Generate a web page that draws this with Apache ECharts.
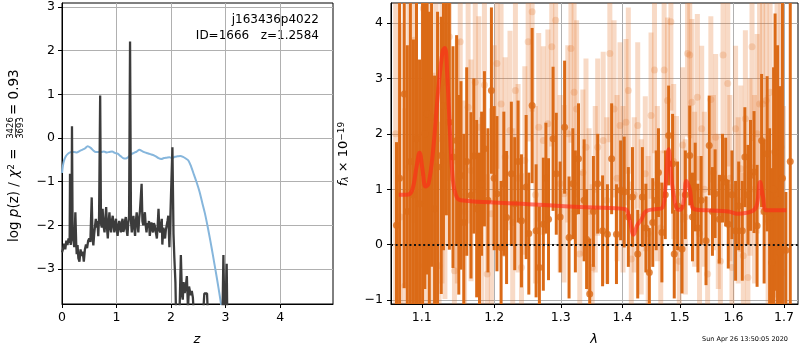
<!DOCTYPE html>
<html>
<head>
<meta charset="utf-8">
<script src="https://cdn.jsdelivr.net/npm/echarts@6/dist/echarts.min.js"></script>
<style>
html, body { margin: 0; padding: 0; background: #fff; }
#chart { width: 800px; height: 350px; }
</style>
</head>
<body>
<div id="chart"></div>
<script>
// ---- left panel: log p(z) ----
var pzZ = [0.00, 0.02, 0.04, 0.06, 0.08, 0.10, 0.12, 0.14, 0.147, 0.16, 0.175, 0.183, 0.195, 0.21, 0.225, 0.245, 0.26, 0.27, 0.285, 0.30,
  0.32, 0.34, 0.36, 0.38, 0.40, 0.42, 0.44, 0.46, 0.48, 0.50, 0.52, 0.545, 0.56, 0.575, 0.59, 0.605, 0.62, 0.635, 0.65, 0.665,
  0.68, 0.70, 0.715, 0.73, 0.745, 0.76, 0.78, 0.795, 0.81, 0.825, 0.84, 0.855, 0.87, 0.885, 0.90, 0.915, 0.93, 0.945, 0.96, 0.975,
  0.99, 1.005, 1.02, 1.035, 1.05, 1.065, 1.08, 1.095, 1.11, 1.125, 1.14, 1.155, 1.17, 1.185, 1.20, 1.215, 1.23, 1.248, 1.265, 1.28,
  1.295, 1.31, 1.325, 1.34, 1.355, 1.37, 1.385, 1.40, 1.415, 1.43, 1.46, 1.475, 1.49, 1.505, 1.52, 1.535, 1.55, 1.565, 1.58, 1.595,
  1.61, 1.625, 1.64, 1.655, 1.67, 1.685, 1.70, 1.72, 1.74, 1.755, 1.77, 1.785, 1.80, 1.815, 1.83, 1.84, 1.86, 1.875, 1.89, 1.905,
  1.92, 1.935, 1.95, 1.97, 1.985, 2.025, 2.045, 2.06, 2.08, 2.10, 2.14, 2.18, 2.20, 2.215, 2.23, 2.25, 2.27, 2.29, 2.31, 2.33,
  2.36, 2.38, 2.40, 2.43, 2.50, 2.58, 2.61, 2.64, 2.66, 2.68, 2.75, 2.85, 2.94, 2.96, 2.98, 3.00, 3.02, 3.035];
var pzLog = [-2.62, -2.54, -2.42, -2.55, -2.35, -2.45, -2.30, -2.40, -0.82, -2.45, -2.2, 0.27, -2.3, -2.35, -2.5, -1.70, -2.4, -2.66, -2.45, -2.75,
  -2.83, -2.55, -2.70, -2.60, -2.83, -2.55, -2.44, -2.52, -2.35, -2.30, -2.38, -1.36, -2.30, -2.46, -2.20, -2.16, -1.85, -2.05, -1.90, -2.25,
  -1.80, 0.97, -1.95, -2.05, -1.62, -2.0, -2.16, -1.85, -1.58, -2.05, -2.30, -1.95, -1.70, -2.05, -2.16, -1.90, -1.78, -2.0, -2.16, -1.95,
  -1.85, -2.1, -2.24, -2.0, -1.90, -2.05, -2.16, -1.95, -1.85, -2.15, -2.08, -1.90, -1.81, -2.1, -2.24, -1.95, -1.78, 2.21, -1.9, -2.16,
  -1.95, -1.78, -2.05, -2.24, -1.9, -1.70, -1.95, -2.16, -1.85, -1.66, -1.05, -1.9, -2.0, -1.85, -1.70, -2.0, -2.16, -1.95, -2.05, -1.90,
  -2.24, -2.05, -1.93, -2.1, -2.16, -1.95, -2.0, -2.15, -2.30, -2.0, -1.62, -2.1, -2.16, -2.0, -1.85, -2.44, -2.05, -2.2, -2.30, -2.1,
  -2.0, -1.9, -1.78, -2.5, -1.9, -0.21, -2.2, -2.73, -3.3, -4.6, -4.8, -2.68, -3.6, -3.7, -3.3, -3.55, -3.4, -3.16, -3.9, -3.4,
  -3.6, -3.5, -3.65, -4.3, -4.8, -4.2, -3.56, -3.6, -3.56, -4.2, -4.8, -4.9, -4.4, -2.68, -4.2, -3.9, -2.88, -4.5];

var priorZ = [0, 0.03, 0.07, 0.12, 0.17, 0.22, 0.27, 0.32, 0.37, 0.42, 0.47, 0.52, 0.57, 0.62, 0.67, 0.72, 0.77, 0.82, 0.87, 0.92,
  0.97, 1.02, 1.07, 1.12, 1.17, 1.22, 1.27, 1.32, 1.37, 1.42, 1.47, 1.52, 1.57, 1.62, 1.67, 1.72, 1.77, 1.82, 1.87, 1.92,
  1.97, 2.02, 2.07, 2.12, 2.17, 2.22, 2.27, 2.32, 2.37, 2.42, 2.47, 2.52, 2.57, 2.62, 2.67, 2.72, 2.77, 2.82, 2.87, 2.92, 2.97];
var priorLog = [-0.8, -0.55, -0.42, -0.35, -0.32, -0.32, -0.33, -0.3, -0.27, -0.24, -0.19, -0.22, -0.28, -0.32, -0.32, -0.32, -0.31, -0.33, -0.32, -0.31,
  -0.34, -0.36, -0.41, -0.46, -0.47, -0.43, -0.37, -0.34, -0.31, -0.27, -0.3, -0.33, -0.35, -0.37, -0.39, -0.42, -0.46, -0.48, -0.46, -0.45,
  -0.44, -0.46, -0.43, -0.42, -0.41, -0.43, -0.47, -0.52, -0.66, -0.84, -1.02, -1.22, -1.47, -1.72, -2.02, -2.35, -2.7, -3.06, -3.43, -3.83, -4.3];

var zTicks = [0, 1, 2, 3, 4];
var pTicks = [-3, -2, -1, 0, 1, 2, 3];

// ---- right panel: spectrum ----
var darkWave = [1.067, 1.071, 1.077, 1.081, 1.085, 1.089, 1.093, 1.097, 1.101, 1.104, 1.107, 1.110, 1.113, 1.117, 1.121, 1.126, 1.129, 1.133, 1.137, 1.142,
  1.147, 1.150, 1.153, 1.157, 1.161, 1.167, 1.171, 1.175, 1.179, 1.182, 1.186, 1.191, 1.196, 1.200, 1.204, 1.210, 1.214, 1.218, 1.225, 1.230,
  1.235, 1.240, 1.247, 1.251, 1.256, 1.262, 1.267, 1.273, 1.277, 1.281, 1.288, 1.293, 1.299, 1.306, 1.313, 1.319, 1.323, 1.328, 1.337, 1.341,
  1.346, 1.352, 1.359, 1.367, 1.375, 1.382, 1.390, 1.397, 1.403, 1.410, 1.417, 1.426, 1.434, 1.440, 1.446, 1.452, 1.458, 1.462, 1.468, 1.474,
  1.480, 1.487, 1.490, 1.496, 1.504, 1.510, 1.518, 1.523, 1.528, 1.533, 1.539, 1.548, 1.554, 1.560, 1.565, 1.573, 1.579, 1.585, 1.590, 1.597,
  1.604, 1.610, 1.617, 1.622, 1.628, 1.633, 1.640, 1.646, 1.655, 1.660, 1.666, 1.671, 1.675, 1.679, 1.682, 1.687, 1.692, 1.697, 1.704, 1.713];
var darkFlux = [0.35, 1.2, 2.72, 0.6, 1.5, 0.9, 1.91, 0.74, 1.3, 2.0, 2.36, 1.2, 2.30, 0.65, 1.4, 1.61, 2.5, 2.93, 2.21, 1.58,
  1.88, 0.9, 1.25, 0.4, 1.5, 0.89, 1.6, 0.65, 0.16, 1.1, 1.73, 0.80, 2.78, 1.2, 0.92, -0.05, 1.1, 0.49, 1.28, 0.74,
  1.5, 0.43, 1.04, 0.2, 2.51, 0.25, -0.41, 0.37, 1.2, 0.46, 1.91, 1.28, 0.5, 2.12, 0.13, 1.10, 0.6, 1.55, 0.80, 0.1,
  -0.89, 0.6, 1.10, 0.25, 0.19, 1.55, 0.19, 0.98, 0.95, 0.5, 0.86, -0.17, 0.86, 0.3, -0.50, 0.4, 0.80, 1.3, 0.22, 0.9,
  1.97, 1.46, -0.17, 0.7, -0.08, 0.9, 1.61, 0.5, 1.04, 0.3, 0.80, 0.07, 1.79, 0.6, 0.92, 0.46, 1.2, 1.13, 0.37, 0.9,
  0.25, 0.7, 0.25, 1.58, 0.9, 1.25, 1.31, 0.34, 1.88, 0.6, 1.64, 0.5, -0.32, 1.0, 1.67, 0.8, -0.14, 1.2, -0.1, 1.5];
var darkErr = [1.5, 3.4, 3.5, 3.0, 3.6, 2.8, 3.2, 2.6, 3.1, 2.8, 2.9, 3.0, 2.7, 2.4, 2.8, 2.5, 2.6, 2.4, 2.3, 2.0,
  1.9, 1.8, 1.7, 1.6, 1.7, 1.5, 1.4, 1.6, 1.5, 1.3, 1.4, 1.3, 1.5, 1.3, 1.4, 1.2, 1.3, 1.2, 1.3, 1.2,
  1.1, 1.2, 1.3, 1.1, 1.4, 1.2, 1.1, 1.2, 1.0, 1.1, 1.3, 1.1, 1.0, 1.2, 1.1, 1.0, 1.1, 1.0, 1.1, 0.9,
  1.0, 1.0, 0.9, 1.0, 0.9, 1.0, 0.9, 0.9, 1.0, 0.9, 0.9, 0.8, 0.9, 0.8, 0.8, 0.8, 0.9, 0.8, 0.9, 0.8,
  0.9, 0.9, 0.8, 0.8, 0.8, 0.8, 0.9, 0.8, 0.8, 0.8, 0.8, 0.8, 0.9, 0.8, 0.8, 0.8, 0.8, 0.8, 0.8, 0.8,
  0.9, 0.8, 0.9, 0.9, 0.9, 1.0, 1.1, 1.1, 1.2, 1.3, 1.4, 1.6, 1.7, 2.2, 2.5, 2.8, 3.0, 4.0, 1.05, 3.5];

var lightWave = [1.066, 1.072, 1.078, 1.083, 1.090, 1.096, 1.102, 1.106, 1.110, 1.115, 1.119, 1.123, 1.127, 1.131, 1.137, 1.144, 1.148, 1.152, 1.158, 1.163,
  1.167, 1.173, 1.178, 1.182, 1.186, 1.190, 1.196, 1.200, 1.204, 1.210, 1.216, 1.223, 1.227, 1.231, 1.235, 1.240, 1.245, 1.250, 1.256, 1.261,
  1.266, 1.273, 1.280, 1.286, 1.292, 1.299, 1.305, 1.311, 1.316, 1.321, 1.325, 1.330, 1.335, 1.340, 1.345, 1.350, 1.355, 1.359, 1.368, 1.374,
  1.379, 1.386, 1.391, 1.396, 1.401, 1.406, 1.410, 1.415, 1.420, 1.426, 1.432, 1.439, 1.444, 1.449, 1.455, 1.460, 1.466, 1.472, 1.478, 1.484,
  1.489, 1.494, 1.499, 1.505, 1.510, 1.514, 1.518, 1.522, 1.527, 1.532, 1.536, 1.540, 1.545, 1.551, 1.557, 1.562, 1.566, 1.571, 1.575, 1.580,
  1.589, 1.593, 1.597, 1.604, 1.609, 1.614, 1.619, 1.623, 1.628, 1.632, 1.636, 1.641, 1.646, 1.651, 1.657, 1.664, 1.668, 1.672, 1.675, 1.682,
  1.686, 1.694, 1.699];
var lightFlux = [2.0, 0.5, -0.74, 1.40, 3.69, -0.38, 4.26, 1.0, 2.97, 0.3, 2.82, -0.38, 1.9, 1.52, 3.75, -0.47, 1.5, 3.66, 0.6, 2.48,
  1.34, 2.93, 2.12, 0.5, 2.88, -0.53, 0.56, 1.8, 3.27, 2.54, 1.58, 2.06, 0.4, 2.78, 1.2, -0.41, 1.52, 3.66, 4.20, 0.9,
  2.12, 1.88, 2.18, 3.57, 4.05, 1.10, 0.92, 2.0, 3.54, 2.75, 2.45, -0.17, 1.3, 1.76, 0.6, -0.41, 1.0, 1.76, 1.88, 0.8,
  3.45, 2.45, 1.2, 2.15, 1.0, 2.21, 2.78, -0.26, 0.9, 2.15, 0.5, 1.28, 0.2, 2.33, 3.15, 1.1, 0.3, 3.15, 2.60, 4.02,
  1.5, 0.92, -0.3, 1.8, 0.5, 3.45, 3.42, 2.57, 1.0, 2.66, 0.2, 2.09, 1.0, -0.53, 2.62, 1.3, 1.94, 0.6, -0.3, 3.42,
  2.91, 1.2, -0.41, 2.09, 0.8, 1.37, -0.2, 2.27, -0.59, 1.4, 3.57, 1.0, 2.0, 2.54, 2.54, 2.60, 0.4, 2.75, -0.89, -0.89,
  1.5, 1.76, -0.5];
var lightErr = [4.0, 3.5, 3.2, 3.5, 3.3, 3.0, 3.2, 3.0, 3.0, 2.8, 2.8, 2.6, 2.6, 2.5, 2.6, 2.2, 2.2, 2.3, 2.0, 2.1,
  2.0, 2.0, 2.0, 1.8, 2.0, 1.8, 1.9, 1.8, 1.9, 1.8, 1.8, 1.8, 1.7, 1.8, 1.7, 1.7, 1.7, 1.8, 1.8, 1.6,
  1.7, 1.7, 1.7, 1.8, 1.8, 1.6, 1.6, 1.6, 1.7, 1.7, 1.6, 1.5, 1.5, 1.6, 1.5, 1.5, 1.5, 1.6, 1.6, 1.5,
  1.6, 1.6, 1.5, 1.5, 1.5, 1.5, 1.5, 1.4, 1.4, 1.5, 1.4, 1.4, 1.4, 1.5, 1.5, 1.4, 1.4, 1.5, 1.5, 1.6,
  1.4, 1.4, 1.3, 1.4, 1.4, 1.5, 1.5, 1.5, 1.4, 1.5, 1.4, 1.5, 1.4, 1.4, 1.5, 1.4, 1.5, 1.4, 1.4, 1.5,
  1.5, 1.5, 1.5, 1.5, 1.5, 1.5, 1.5, 1.6, 1.6, 1.6, 1.7, 1.7, 1.8, 1.9, 2.0, 2.2, 2.3, 2.5, 2.6, 2.8,
  3.2, 3.5, 3.0];

var modelWave = [1.070, 1.080, 1.087, 1.093, 1.097, 1.101, 1.105, 1.109, 1.115, 1.122, 1.128, 1.131, 1.134, 1.138, 1.142, 1.147, 1.153, 1.20, 1.25, 1.30,
  1.33, 1.38, 1.405, 1.412, 1.419, 1.425, 1.432, 1.44, 1.455, 1.468, 1.474, 1.480, 1.486, 1.494, 1.500, 1.506, 1.512, 1.518, 1.526, 1.55,
  1.59, 1.608, 1.635, 1.645, 1.652, 1.658, 1.665, 1.705];
var modelFlux = [0.90, 0.90, 0.97, 1.4, 1.66, 1.35, 1.05, 1.1, 1.7, 2.8, 3.5, 3.55, 3.1, 2.0, 1.15, 0.86, 0.8, 0.76, 0.73, 0.70,
  0.68, 0.66, 0.64, 0.45, 0.18, 0.35, 0.45, 0.6, 0.64, 0.66, 1.0, 1.72, 1.1, 0.66, 0.63, 0.72, 1.15, 1.0, 0.64, 0.62,
  0.6, 0.56, 0.6, 0.7, 1.13, 0.85, 0.62, 0.62];

var lamTicks = [1.1, 1.2, 1.3, 1.4, 1.5, 1.6, 1.7];
var fTicks = [-1, 0, 1, 2, 3, 4];

var myChart = echarts.init(document.getElementById('chart'));

var FONT = 'DejaVu Sans';
var DARK = '#db6a16';

function minus(v) {
  return String(v).replace('-', '\u2212');
}

function toLog(w) {
  return Math.log(w);
}

function pairs(xs, ys) {
  var out = [];
  for (var i = 0; i < xs.length; i++) out.push([xs[i], ys[i]]);
  return out;
}

function bars(ws, fs, es) {
  var out = [];
  for (var i = 0; i < ws.length; i++) out.push([toLog(ws[i]), fs[i], es[i]]);
  return out;
}

// draws one vertical error bar, clipped to the grid
function errBar(width, color) {
  return function(params, api) {
    var x = api.value(0), y = api.value(1), e = api.value(2);
    var top = api.coord([x, y + e]);
    var bot = api.coord([x, y - e]);
    var shape = echarts.graphic.clipRectByRect({
      x: top[0] - width / 2, y: top[1], width: width, height: bot[1] - top[1]
    }, params.coordSys);
    if (!shape) return;
    return { type: 'rect', shape: shape, style: { fill: color } };
  };
}

var axisCommon = {
  axisLine: { show: true, onZero: false, lineStyle: { color: '#000', width: 1 } },
  axisTick: { show: true, inside: false, length: 4, lineStyle: { color: '#000' } },
  splitLine: { show: true, lineStyle: { color: '#b0b0b0', width: 1 } }
};

function makeAxis(extra, labelOpt) {
  var a = {
    type: 'value',
    axisLine: axisCommon.axisLine,
    splitLine: axisCommon.splitLine,
    axisTick: Object.assign({ customValues: extra.ticks }, axisCommon.axisTick),
    axisLabel: Object.assign({
      customValues: extra.ticks, color: '#000', fontFamily: FONT, fontSize: 12.5,
      formatter: function(v) { return minus(v); }
    }, labelOpt)
  };
  delete extra.ticks;
  return Object.assign(a, extra);
}

var option = {
  animation: false,
  backgroundColor: '#fff',
  grid: [
    { left: 62, top: 3, width: 271, height: 301, show: true, borderColor: '#000', borderWidth: 1 },
    { left: 391, top: 3, width: 407, height: 301, show: true, borderColor: '#000', borderWidth: 1 }
  ],
  xAxis: [
    makeAxis({ gridIndex: 0, min: 0, max: 4.97, ticks: zTicks }, { margin: 7 }),
    makeAxis({ gridIndex: 1, min: toLog(1.06), max: toLog(1.729), ticks: lamTicks.map(toLog) },
      { margin: 7, formatter: function(v) { return Math.exp(v).toFixed(1); } })
  ],
  yAxis: [
    makeAxis({ gridIndex: 0, min: -3.8, max: 3.09, ticks: pTicks }, { margin: 7 }),
    makeAxis({ gridIndex: 1, min: -1.07, max: 4.36, ticks: fTicks }, { margin: 8 })
  ],
  series: [
    {
      type: 'line', xAxisIndex: 0, yAxisIndex: 0, data: pairs(priorZ, priorLog),
      showSymbol: false, smooth: 0.3, lineStyle: { color: '#86b6dc', width: 2 }, z: 3
    },
    {
      type: 'line', xAxisIndex: 0, yAxisIndex: 0, data: pairs(pzZ, pzLog),
      showSymbol: false, lineStyle: { color: '#3c3c3c', width: 2.3 }, z: 4
    },
    {
      type: 'custom', xAxisIndex: 1, yAxisIndex: 1, data: bars(lightWave, lightFlux, lightErr),
      renderItem: errBar(5, 'rgba(228,120,45,0.27)'), encode: { x: 0, y: 1 }, z: 2
    },
    {
      type: 'scatter', xAxisIndex: 1, yAxisIndex: 1, data: bars(lightWave, lightFlux, lightErr),
      symbolSize: 7, itemStyle: { color: 'rgba(228,120,45,0.3)' }, z: 2
    },
    {
      type: 'custom', xAxisIndex: 1, yAxisIndex: 1, data: bars(darkWave, darkFlux, darkErr),
      renderItem: errBar(3, DARK), encode: { x: 0, y: 1 }, z: 3
    },
    {
      type: 'scatter', xAxisIndex: 1, yAxisIndex: 1, data: bars(darkWave, darkFlux, darkErr),
      symbolSize: 7, itemStyle: { color: DARK }, z: 3
    },
    {
      type: 'line', xAxisIndex: 1, yAxisIndex: 1, data: pairs(modelWave.map(toLog), modelFlux),
      showSymbol: false, smooth: 0.4, lineStyle: { color: 'rgba(255,40,25,0.62)', width: 4 }, z: 5,
      markLine: {
        silent: true, symbol: 'none', label: { show: false },
        lineStyle: { color: '#111', type: [2, 2.6], width: 2 },
        data: [{ yAxis: 0 }]
      }
    }
  ],
  graphic: [
    { type: 'text', x: 319, y: 20, style: { text: 'j163436p4022', fill: '#000', font: '12px "DejaVu Sans"', align: 'right', verticalAlign: 'middle' } },
    { type: 'text', x: 319, y: 36, style: { text: 'ID=1666   z=1.2584', fill: '#000', font: '12px "DejaVu Sans"', align: 'right', verticalAlign: 'middle' } },
    { type: 'text', x: 197, y: 340, style: { text: 'z', fill: '#000', font: 'italic 13px "DejaVu Sans"', align: 'center', verticalAlign: 'middle' } },
    { type: 'text', x: 594, y: 340, style: { text: 'λ', fill: '#000', font: 'italic 13px "DejaVu Sans"', align: 'center', verticalAlign: 'middle' } },
    { type: 'text', x: 788, y: 339, style: { text: 'Sun Apr 26 13:50:05 2020', fill: '#000', font: '6.5px "DejaVu Sans"', align: 'right', verticalAlign: 'middle' } },
    {
      type: 'group', x: 14, y: 242, rotation: Math.PI / 2,
      children: [
        {
          type: 'text', x: 0, y: 0,
          style: {
            text: 'log {i|p}(z) / {i|χ}{s|2} =', fill: '#000', fontFamily: FONT, fontSize: 13.5, verticalAlign: 'middle',
            rich: { i: { fontStyle: 'italic', fontSize: 13.5, fontFamily: FONT }, s: { fontSize: 9, fontFamily: FONT, verticalAlign: 'top' } }
          }
        },
        { type: 'text', x: 114, y: -3, style: { text: '3426', fill: '#000', fontFamily: FONT, fontSize: 8.5, align: 'center', verticalAlign: 'middle' } },
        { type: 'line', shape: { x1: 105, y1: 1.5, x2: 123, y2: 1.5 }, style: { stroke: '#000', lineWidth: 0.7 } },
        { type: 'text', x: 114, y: 6.5, style: { text: '3693', fill: '#000', fontFamily: FONT, fontSize: 8.5, align: 'center', verticalAlign: 'middle' } },
        { type: 'text', x: 127, y: 0, style: { text: '= 0.93', fill: '#000', fontFamily: FONT, fontSize: 13.5, verticalAlign: 'middle' } }
      ]
    },
    {
      type: 'text', x: 344, y: 154, rotation: Math.PI / 2,
      style: {
        text: '{i|f}{b|λ} × 10{t|−19}', fill: '#000', fontFamily: FONT, fontSize: 13, align: 'center', verticalAlign: 'middle',
        rich: {
          i: { fontStyle: 'italic', fontSize: 13, fontFamily: FONT },
          b: { fontStyle: 'italic', fontSize: 9, fontFamily: FONT, verticalAlign: 'bottom' },
          t: { fontSize: 9, fontFamily: FONT, verticalAlign: 'top' }
        }
      }
    }
  ]
};

myChart.setOption(option);
</script>
</body>
</html>
